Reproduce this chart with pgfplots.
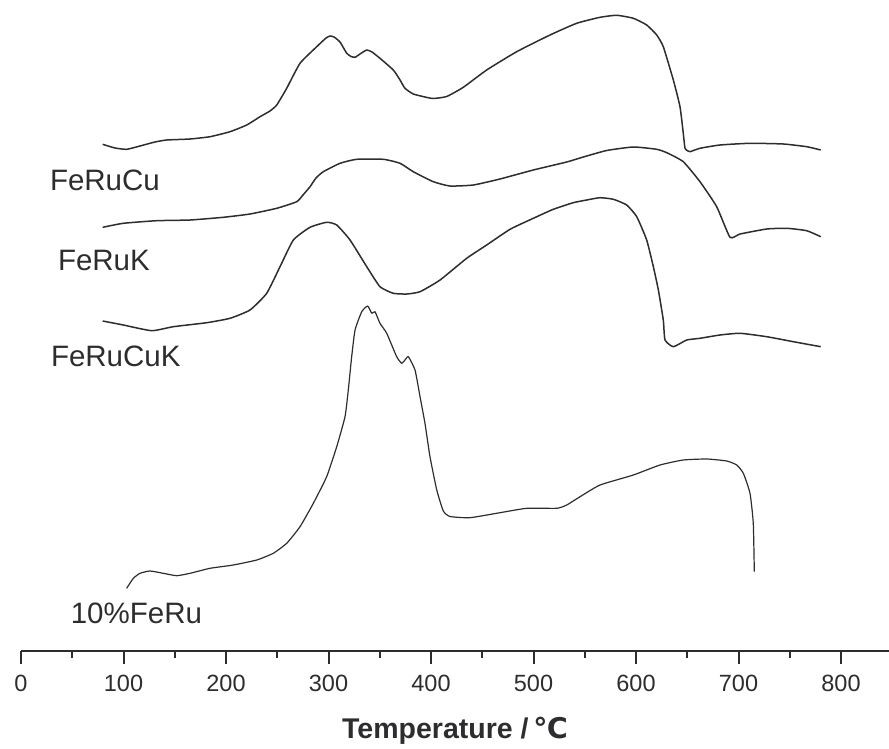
\documentclass[border=0pt]{standalone}
\usepackage{pgfplots}
\pgfplotsset{compat=1.18}
\usepackage{fontspec}
\setmainfont{Liberation Sans}
\newfontfamily\symfont{DejaVu Sans}

\definecolor{ink}{RGB}{45,45,48}

% TPR traces: temperature (deg C) vs. detector signal (arbitrary units, stacked)
\pgfplotstableread{
T y
79.7 506.7
91.7 503
103.1 501.7
116.1 505
130.7 509
142.1 511
164.9 512
184.4 514.3
203.9 519.3
220.2 526
233.2 534.3
242.9 540
249.5 546
259.2 562.7
272.2 587.7
288.5 604.3
297.6 613
301.5 615
305.4 614
311.2 609
317.8 597.7
322.0 594.5
325.9 593.7
330.7 597
337.3 601
342.4 599
350.2 592.7
363.2 581
369.8 571
374.6 562.7
382.7 557
394.1 554
402.2 552.5
415.3 554.5
431.5 563.7
454.3 581
483.6 599.3
516.1 616
542.1 627.7
564.9 633.7
581.2 635.7
597.4 632.7
610.4 626
620.2 616
626.6 604.3
636.4 571
642.9 544.3
646.1 517.7
647.8 502.7
650.7 500
652.7 499.3
662.4 502.7
681.9 506
711.2 507.7
743.7 507
766.5 504.3
780.2 501
}\feruCu

\pgfplotstableread{
T y
79.7 423.7
99.8 427.7
132.4 430.3
164.9 431
197.4 433.7
223.4 437
249.5 442.7
269.0 449.3
275.1 456
282.0 464.3
287.8 473
294.9 479.3
311.2 487.7
327.5 491.7
353.5 491.7
369.8 487.7
382.7 479.3
402.2 469.3
418.5 465
441.3 466
467.3 472
499.8 481
532.4 489
548.6 494
571.4 500.5
597.4 504
620.2 501.7
630.0 498.3
646.1 489.3
662.4 469.3
678.7 444.3
691.7 413.7
701.5 417
727.5 422
747.0 422.7
766.5 420.3
780.2 414.3
}\feruK

\pgfplotstableread{
T y
79.7 330
99.8 326
127.5 320.3
148.6 324.3
181.2 328.3
203.9 332.7
223.4 341
239.7 357.7
252.7 384.3
265.7 411
282.0 423.7
298.2 428.7
308.0 426
321.0 411
337.3 384.3
350.2 364.3
363.2 357.7
376.3 357
389.3 359.3
408.8 371
434.8 392.7
454.3 406
477.1 421.7
499.8 432.7
519.3 441.7
538.8 448.3
551.9 451
564.9 453.3
577.9 451.7
590.9 446
600.7 434.3
610.4 411
616.9 384.3
621.8 361
626.6 331
628.3 311
636.4 304.3
649.5 311
662.4 312.7
681.9 316
701.5 317.7
727.5 314.3
753.5 309.3
780.2 304.3
}\feruCuK

\pgfplotstableread{
T y
103.1 62.7
109.6 72.7
116.1 77.7
125.9 80
138.8 77.7
151.9 75.3
164.9 77.7
184.4 82.7
207.1 86
230.0 91
246.1 97.7
259.2 107.7
272.2 124.3
285.2 147.7
298.2 174.3
308.0 204.3
316.1 234.3
319.3 261
322.6 294.3
325.9 321
332.4 339.3
338.2 345
342.2 337.7
345.4 339.3
350.2 327.7
356.8 317.7
366.5 294.3
371.4 287.7
374.6 291
377.9 294.3
384.4 281
389.3 254.3
394.1 227.7
399.0 194.3
405.6 161
412.0 140
418.5 134.5
438.0 133.3
467.3 138.3
493.4 142.7
522.6 142.7
532.4 146
545.4 154.3
564.9 166
597.4 176
623.4 186
646.1 191
669.0 192
688.5 190
698.3 186
704.7 177.7
711.2 157.7
714.4 127.7
715.4 79.3
}\feRu

\begin{document}
\begin{tikzpicture}
\useasboundingbox (0pt,0pt) rectangle (444.5pt,-374.5pt);
\begin{axis}[
  at={(10.5pt,-325.5pt)}, anchor=south west,
  scale only axis, width=434pt, height=325.5pt,
  xmin=0, xmax=846.8, ymin=0, ymax=651,
  axis x line=bottom, axis y line=none,
  axis line style={line width=1pt, ink, -},
  xtick={0,100,...,800},
  minor xtick={50,150,...,750},
  tick align=outside,
  major tick length=6.5pt, minor tick length=3.5pt,
  every tick/.style={line width=1pt, ink},
  /pgf/number format/assume math mode=true,
  xticklabel style={font=\fontsize{11.75}{13}\selectfont, text=ink, yshift=-2pt},
  clip=false,
  trace/.style={ink, line width=0.75pt, no markers, line join=round,
    smooth, tension=0.3},
]
\addplot[trace] table[x=T, y=y] {\feruCu};
\addplot[trace] table[x=T, y=y] {\feruK};
\addplot[trace] table[x=T, y=y] {\feruCuK};
\addplot[trace, line width=0.6pt] table[x=T, y=y] {\feRu};
\end{axis}

\begin{scope}[every node/.style={inner sep=0pt, anchor=base west, text=ink,
    font=\fontsize{14.75}{16}\selectfont}]
  \node at (24.8pt,-95.2pt) {FeRuCu};
  \node at (28.8pt,-135.2pt) {FeRuK};
  \node at (25.3pt,-183.2pt) {FeRuCuK};
  \node at (35.2pt,-311.5pt) {10\%FeRu};
\end{scope}
\node[inner sep=0pt, anchor=base, text=ink, font=\fontsize{14.25}{16}\selectfont\bfseries]
  at (227.5pt,-369pt) {Temperature /\,{\symfont ℃}};
\end{tikzpicture}
\end{document}
